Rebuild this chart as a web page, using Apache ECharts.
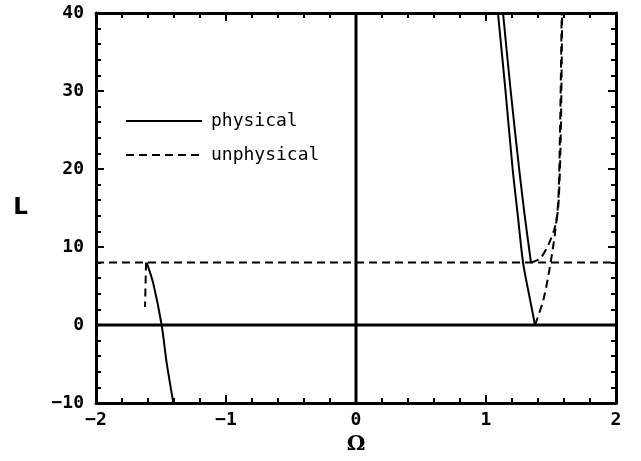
<!DOCTYPE html>
<html>
<head>
<meta charset="utf-8">
<script src="https://cdn.jsdelivr.net/npm/echarts@6/dist/echarts.min.js"></script>
<style>
  html, body { margin: 0; padding: 0; background: #fff; }
  #chart { width: 641px; height: 461px; }
</style>
</head>
<body>
<div id="chart"></div>
<script>
// points, [Omega, L]
var physRightOuter = [[1.092, 40], [1.15, 30], [1.205, 20], [1.245, 14], [1.285, 8], [1.33, 4], [1.377, 0]];
var physRightInner = [[1.131, 40], [1.19, 30], [1.255, 20], [1.298, 14], [1.346, 8]];
var physLeft = [[-1.61, 8], [-1.559, 5.3], [-1.495, 0], [-1.456, -4.9], [-1.405, -10]];
var unphysFromMin = [[1.377, 0], [1.441, 3.2], [1.492, 7.5], [1.531, 11.8], [1.556, 16], [1.569, 24.6], [1.576, 32], [1.582, 40]];
var unphysFromInner = [[1.346, 8], [1.415, 8.5], [1.48, 10.3], [1.531, 12.6], [1.556, 15.2], [1.572, 22], [1.58, 30], [1.586, 40]];
var unphysLeft = [[-1.615, 8], [-1.623, 2.3]];
var unphysLevel = [[-2, 8], [2, 8]];
var zeroH = [[-2, 0], [2, 0]];
var zeroV = [[0, -10], [0, 40]];
var xTicks = { min: -2, max: 2, step: 1 };
var yTicks = { min: -10, max: 40, step: 10 };

var myChart = echarts.init(document.getElementById('chart'));

var labelFont = 'DejaVu Sans Mono';
function minus(v) { return String(v).replace('-', '\u2212'); }

function xAxisDef(pos, showLabel) {
    return {
        type: 'value', position: pos,
        min: xTicks.min, max: xTicks.max, interval: xTicks.step,
        name: showLabel ? '\u03a9' : '',
        nameLocation: 'middle', nameGap: 30,
        nameTextStyle: { fontFamily: 'DejaVu Serif', fontSize: 21, fontWeight: 'bold', color: '#000' },
        axisLine: { show: true, onZero: false, lineStyle: { color: '#000', width: 3 } },
        axisTick: { show: true, inside: true, length: 8, lineStyle: { color: '#000', width: 2 } },
        minorTick: { show: true, splitNumber: 5, length: 5, lineStyle: { color: '#000', width: 2 } },
        splitLine: { show: false },
        axisLabel: { show: showLabel, margin: 8, fontFamily: labelFont, fontSize: 18, fontWeight: 'bold', color: '#000', formatter: minus }
    };
}
function yAxisDef(pos, showLabel) {
    return {
        type: 'value', position: pos,
        min: yTicks.min, max: yTicks.max, interval: yTicks.step,
        name: showLabel ? 'L' : '',
        nameLocation: 'middle', nameGap: 68, nameRotate: 0,
        nameTextStyle: { fontFamily: 'DejaVu Sans', fontSize: 23, fontWeight: 'bold', color: '#000' },
        axisLine: { show: true, onZero: false, lineStyle: { color: '#000', width: 3 } },
        axisTick: { show: true, inside: true, length: 8, lineStyle: { color: '#000', width: 2 } },
        minorTick: { show: true, splitNumber: 5, length: 5, lineStyle: { color: '#000', width: 2 } },
        splitLine: { show: false },
        axisLabel: { show: showLabel, margin: 12, fontFamily: labelFont, fontSize: 18, fontWeight: 'bold', color: '#000', formatter: minus }
    };
}

function curve(name, data, dashed, width, smooth) {
    return {
        name: name, type: 'line', data: data,
        symbol: 'none', showSymbol: false, silent: true, animation: false,
        smooth: smooth || false,
        itemStyle: { color: '#000' },
        lineStyle: { color: '#000', width: width || 2, type: dashed ? [8, 5] : 'solid' },
        z: 3
    };
}

var option = {
    backgroundColor: '#fff',
    animation: false,
    grid: { left: 96, right: 25, top: 13, bottom: 58, show: false },
    legend: {
        data: ['physical', 'unphysical'],
        orient: 'vertical', left: 120, top: 107,
        itemWidth: 76, itemHeight: 14, itemGap: 16,
        selectedMode: false,
        itemStyle: { opacity: 0 },
        textStyle: { fontFamily: labelFont, fontSize: 18, color: '#000', padding: [0, 0, 0, 4] }
    },
    xAxis: [xAxisDef('bottom', true), xAxisDef('top', false)],
    yAxis: [yAxisDef('left', true), yAxisDef('right', false)],
    series: [
        curve('zero', zeroH, false, 3),
        curve('zero', zeroV, false, 3),
        curve('physical', physRightOuter, false, 2, 0.3),
        curve('physical', physRightInner, false, 2, 0.3),
        curve('physical', physLeft, false, 2, 0.3),
        curve('unphysical', unphysFromMin, true, 2, 0.3),
        curve('unphysical', unphysFromInner, true, 2, 0.3),
        curve('unphysical', unphysLeft, true),
        curve('unphysical', unphysLevel, true)
    ]
};
myChart.setOption(option);
</script>
</body>
</html>
